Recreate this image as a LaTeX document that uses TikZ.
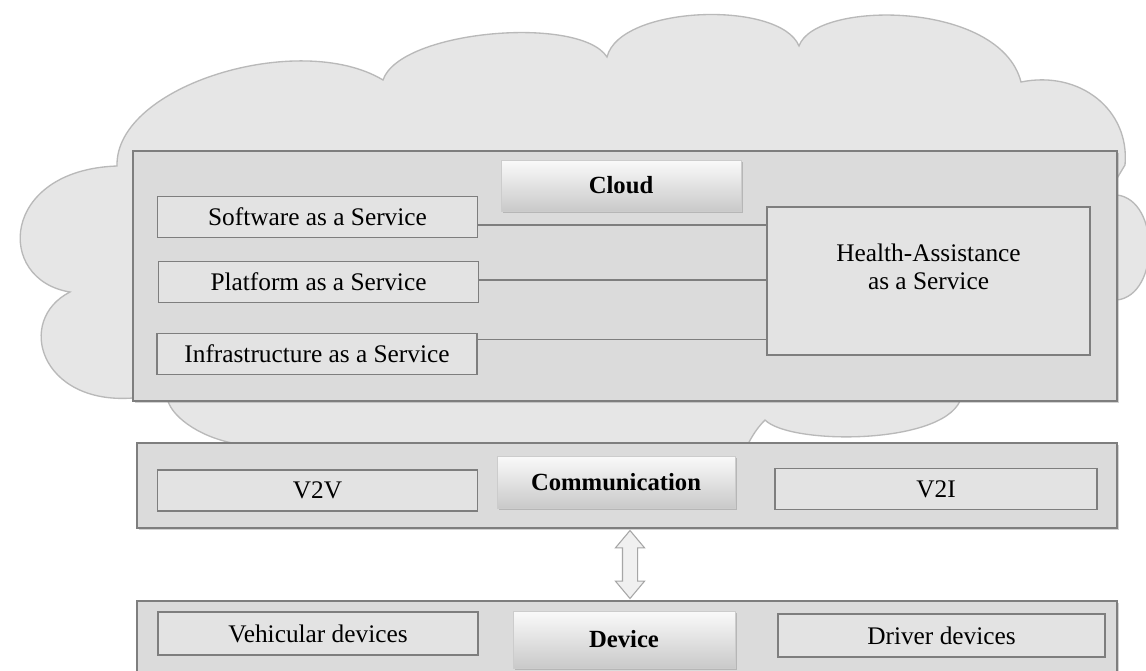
\documentclass[tikz,border=0pt]{standalone}
\usepackage{fontspec}
\setmainfont{Liberation Serif}
\usetikzlibrary{positioning, calc, shapes.arrows, shadows}
\definecolor{CloudGray}{HTML}{E6E6E6}
\definecolor{PanelGray}{HTML}{DBDBDB}
\definecolor{ItemGray}{HTML}{E3E3E3}
\definecolor{EdgeGray}{HTML}{7E7E7E}

\begin{document}
\begin{tikzpicture}[
        x=0.75pt, y=-0.75pt,
        panel/.style={draw=EdgeGray, line width=1.3pt, fill=PanelGray, inner sep=0pt,
          drop shadow={shadow xshift=1.5pt, shadow yshift=-1.5pt, opacity=0.35}},
        item/.style={draw=EdgeGray, line width=1.2pt, fill=ItemGray, inner sep=0pt,
          minimum width=240pt, minimum height=31pt, font=\fontsize{19}{21}\selectfont},
        head/.style={top color=gray!4, bottom color=gray!42, draw=gray!40, line width=0.4pt,
          inner sep=0pt, font=\fontsize{18.5}{21}\selectfont\bfseries,
          drop shadow={shadow xshift=1.2pt, shadow yshift=-1.5pt, opacity=0.4}},
        link/.style={draw=EdgeGray, line width=1.2pt},
        updown/.style={double arrow, rotate=90, draw=gray!70, fill=gray!12, line width=0.8pt,
          inner sep=5.25pt, minimum height=51pt, double arrow head extend=5.25pt,
          double arrow tip angle=80},
      ]
        \useasboundingbox[fill=white] (0,0) rectangle (1146,671);
        % ---- cloud ----
        \fill[CloudGray, draw=gray!55, line width=1pt]
          (117,166) .. controls (115,85) and (300,30) .. (383,80)
          .. controls (400,30) and (580,15) .. (607,57)
          .. controls (620,5) and (780,0) .. (799,46)
          .. controls (815,0) and (1000,0) .. (1021,82)
          .. controls (1080,70) and (1130,110) .. (1125,165)
          -- (1110,190) -- (1117,195)
          .. controls (1160,200) and (1160,295) .. (1117,300)
          -- (1000,390) -- (960,401)
          .. controls (940,445) and (790,445) .. (765,420)
          .. controls (755,430) and (750,440) .. (745,450)
          -- (745,460) -- (232,460) -- (232,443)
          .. controls (195,435) and (172,415) .. (168,401)
          -- (133,398)
          .. controls (40,405) and (15,320) .. (70,292)
          .. controls (-5,280) and (0,170) .. cycle;
        % ---- cloud layer ----
        \node[panel, minimum width=738pt, minimum height=187.5pt] (cloud) at (625,276) {};
        \node[head, minimum width=180pt, minimum height=38pt] (cloudhd) at (621,185.5) {Cloud};
        \node[item] (sw) at (317.5,217) {Software as a Service};
        \node[item] (pf) at (318.5,282) {Platform as a Service};
        \node[item] (ia) at (317,354) {Infrastructure as a Service};
        \node[item, minimum width=242pt, minimum height=111pt, align=center] (has) at (928.5,281)
          {Health-Assistance\\as a Service\\\mbox{}};
        \coordinate (swr) at ([yshift=-6pt]sw.east);
        \coordinate (pfr) at ([yshift=1.5pt]pf.east);
        \coordinate (iar) at ([yshift=11pt]ia.east);
        \foreach \c in {swr, pfr, iar}{\draw[link] (\c) -- (\c -| has.west);}
        % ---- communication layer ----
        \node[panel, minimum width=735pt, minimum height=63.75pt] (comm) at (627,485.5) {};
        \node[head, minimum width=178.5pt, minimum height=39pt] (commhd) at (616,482) {Communication};
        \node[item] (v2v) at (317.5,490.5) {V2V};
        \node[item, minimum width=241.5pt] (v2i) at (936,489) {V2I};
        % ---- device layer ----
        \node[panel, minimum width=735pt, minimum height=67.5pt] (dev) at (627,646) {};
        \node[head, minimum width=166.5pt, minimum height=42.75pt] (devhd) at (624,639.5) {Device};
        \node[item, minimum height=32.25pt] (veh) at (318,633.5) {Vehicular devices};
        \node[item, minimum width=245pt, minimum height=32.25pt] (drv) at (941.5,635.5) {Driver devices};
        % ---- link between layers ----
        \node[updown] (cd) at ($(comm.south)!0.5!(dev.north)+(2.25pt,0)$) {};
      \end{tikzpicture}
\end{document}
